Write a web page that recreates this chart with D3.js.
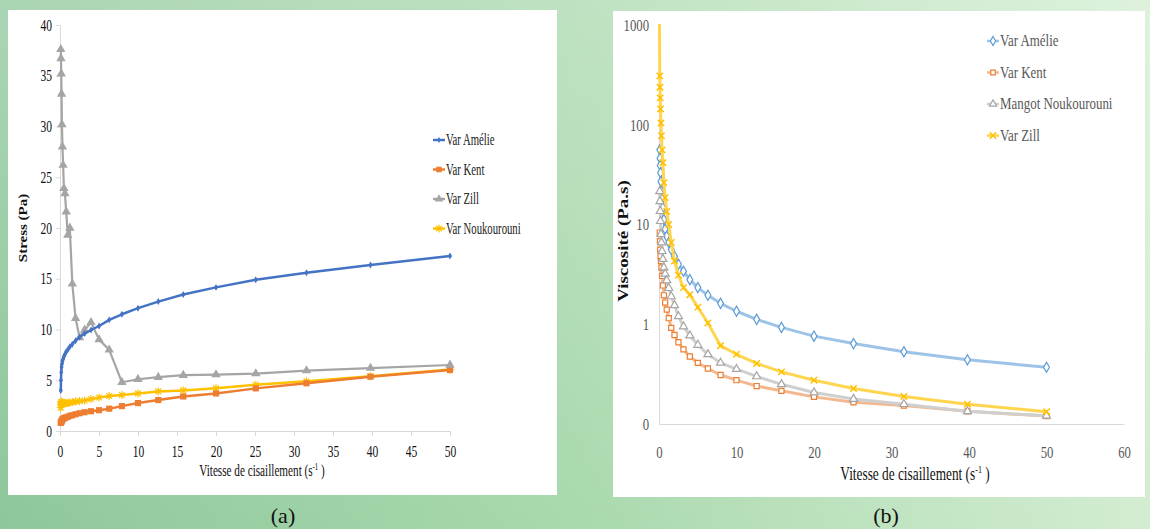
<!DOCTYPE html>
<html lang="fr">
<head>
<meta charset="utf-8">
<title>Stress et viscosité</title>
<style>
  body { margin: 0; overflow: hidden; }
  svg text { font-family: "Liberation Serif", "Times New Roman", serif; }
</style>
</head>
<body>
<svg id="chart" width="1150" height="529"></svg>
<script src="https://d3js.org/d3.v7.min.js"></script>
<script>
"use strict";

// vitesse de cisaillement (s-1)
var rate = [0.1, 0.126, 0.158, 0.2, 0.251, 0.316, 0.398, 0.501, 0.631, 0.794,
            1, 1.26, 1.58, 2, 2.51, 3.16, 3.98, 5.01, 6.31, 7.94,
            10, 12.6, 15.8, 20, 25.1, 31.6, 39.8, 50];

// (a) stress (Pa)
var stressAmelie = [4.0, 5.0, 5.8, 6.3, 6.6, 6.9, 7.1, 7.35, 7.55, 7.8,
                    8.0, 8.3, 8.55, 8.9, 9.25, 9.6, 9.95, 10.35, 10.95, 11.5,
                    12.1, 12.75, 13.45, 14.15, 14.9, 15.6, 16.35, 17.25];
var stressKent = [0.8, 0.85, 0.9, 0.95, 1.05, 1.15, 1.2, 1.25, 1.3, 1.35,
                  1.4, 1.5, 1.55, 1.65, 1.75, 1.85, 1.95, 2.05, 2.2, 2.45,
                  2.75, 3.05, 3.4, 3.7, 4.2, 4.7, 5.35, 6.0];
var stressZill = [37.6, 36.7, 35.2, 33.2, 30.2, 28.0, 26.2, 23.9, 23.4, 21.6,
                  19.3, 20.0, 14.5, 11.1, 9.2, 9.95, 10.7, 9.0, 8.0, 4.8,
                  5.1, 5.3, 5.5, 5.55, 5.65, 5.95, 6.2, 6.5];
var stressNouk = [2.3, 2.6, 2.8, 2.9, 2.8, 2.75, 2.7, 2.75, 2.7, 2.75,
                  2.75, 2.8, 2.85, 2.9, 2.95, 3.0, 3.15, 3.3, 3.45, 3.55,
                  3.7, 3.9, 4.0, 4.2, 4.55, 4.9, 5.4, 6.05];

// (b) viscosité (Pa.s) - first point only measured for Zill (off scale)
var rateB = [0.05, 0.1, 0.126, 0.158, 0.2, 0.251, 0.316, 0.398, 0.501, 0.631, 0.794,
             1, 1.26, 1.58, 2, 2.51, 3.16, 3.98, 5.01, 6.31, 7.94,
             10, 12.6, 15.8, 20, 25.1, 31.6, 39.8, 50];
var viscAmelie = [null, 56, 46, 39, 33, 27, 21.5, 18, 14.7, 11.2, 9.0,
                  7.6, 6.6, 5.6, 4.8, 4.0, 3.4, 2.8, 2.33, 1.95, 1.62,
                  1.35, 1.12, 0.93, 0.76, 0.64, 0.53, 0.44, 0.37];
var viscKent = [null, 8.3, 6.8, 5.6, 4.8, 4.3, 3.7, 3.05, 2.45, 1.95, 1.65,
                1.4, 1.15, 0.92, 0.78, 0.66, 0.56, 0.475, 0.41, 0.36, 0.31,
                0.275, 0.24, 0.215, 0.187, 0.165, 0.153, 0.134, 0.12];
var viscNouk = [null, 21.5, 17.1, 13.6, 10.8, 8.0, 6.6, 5.4, 4.5, 3.7, 3.2,
                2.75, 2.3, 1.9, 1.55, 1.2, 0.95, 0.77, 0.62, 0.5, 0.41,
                0.355, 0.30, 0.25, 0.207, 0.178, 0.158, 0.134, 0.121];
var viscZill = [1500, 309, 238, 186, 144, 104, 77.6, 56, 41.7, 26.3, 18.6,
                13.5, 10.0, 6.6, 4.3, 3.1, 2.33, 1.98, 1.48, 1.03, 0.61,
                0.50, 0.405, 0.333, 0.275, 0.227, 0.189, 0.158, 0.133];

var ticksA_x = [0, 5, 10, 15, 20, 25, 30, 35, 40, 45, 50];
var ticksA_y = [0, 5, 10, 15, 20, 25, 30, 35, 40];
var ticksB_x = [0, 10, 20, 30, 40, 50, 60];
var ticksB_y = [0.1, 1, 10, 100, 1000];
var ticksB_yLabels = ["0", "1", "10", "100", "1000"];

var svg = d3.select("#chart");

// fond vert
var defs = svg.append("defs");
var bg = defs.append("linearGradient").attr("id", "bg");
bg.append("stop").attr("offset", "0").attr("stop-color", "#8ec79b");
bg.append("stop").attr("offset", "0.5").attr("stop-color", "#a9d9ad");
bg.append("stop").attr("offset", "1").attr("stop-color", "#d3edd1");
var bgv = defs.append("linearGradient").attr("id", "bgv").attr("x2", 0).attr("y2", 1);
bgv.append("stop").attr("offset", "0").attr("stop-color", "#fff").attr("stop-opacity", 0.25);
bgv.append("stop").attr("offset", "1").attr("stop-color", "#fff").attr("stop-opacity", 0);
svg.append("rect").attr("width", 1150).attr("height", 529).attr("fill", "url(#bg)");
svg.append("rect").attr("width", 1150).attr("height", 529).attr("fill", "url(#bgv)");

svg.append("rect").attr("x", 8).attr("y", 10).attr("width", 549).attr("height", 485).attr("fill", "#fff");
svg.append("rect").attr("x", 613).attr("y", 11).attr("width", 532).attr("height", 486).attr("fill", "#fff");

defs.append("clipPath").attr("id", "clipB").append("rect")
	.attr("x", 640).attr("y", 24).attr("width", 500).attr("height", 410);

// texte compressé horizontalement (comme l'image)
function squeeze(sel, k) {
	sel.each(function() {
		var t = d3.select(this);
		var x = +t.attr("x") || 0;
		t.attr("x", x / k).attr("transform", "scale(" + k + ",1)");
	});
}
function label(x, y, txt, size, k, anchor, color, weight) {
	var t = svg.append("g").attr("transform", "translate(" + x + "," + y + ")")
		.append("text").attr("transform", "scale(" + k + ",1)")
		.attr("text-anchor", anchor).attr("font-size", size)
		.attr("fill", color).attr("font-weight", weight || "normal");
	t.text(txt);
	return t;
}
function xTitle(x, y, size, k, color) {
	var t = label(x, y, "Vitesse de cisaillement (s", size, k, "middle", color);
	t.append("tspan").attr("font-size", size * 0.6).attr("dy", -size * 0.4).text("-1");
	t.append("tspan").attr("dy", size * 0.4).text(" )");
}
function yTitle(x, y, txt, size, k) {
	svg.append("g").attr("transform", "translate(" + x + "," + y + ") rotate(-90)")
		.append("text").attr("transform", "scale(1," + k + ")")
		.attr("text-anchor", "middle").attr("font-size", size)
		.attr("font-weight", "bold").attr("fill", "#111").text(txt);
}

var asterisk = "M-4,0L4,0M0,-4L0,4M-2.9,-2.9L2.9,2.9M-2.9,2.9L2.9,-2.9";
var cross = "M-3.2,-3.2L3.2,3.2M-3.2,3.2L3.2,-3.2";

function markerPath(type, size) {
	if (type === "asterisk") return asterisk;
	if (type === "x") return cross;
	var s = {diamond: d3.symbolDiamond, square: d3.symbolSquare, triangle: d3.symbolTriangle}[type];
	return d3.symbol().type(s).size(size)();
}

function drawSeries(g, xs, ys, sx, sy, st) {
	var pts = xs.map(function(d, i) { return [d, ys[i]]; });
	var line = d3.line()
		.defined(function(d) { return d[1] !== null; })
		.x(function(d) { return sx(d[0]); })
		.y(function(d) { return sy(d[1]); });
	g.append("path").datum(pts).attr("d", line)
		.attr("fill", "none").attr("stroke", st.line)
		.attr("stroke-width", st.width).attr("stroke-linejoin", "round");
	g.selectAll(null).data(pts.filter(function(d) { return d[1] !== null && sy(d[1]) > 30; }))
		.enter().append("path")
		.attr("transform", function(d) { return "translate(" + sx(d[0]) + "," + sy(d[1]) + ")"; })
		.attr("d", markerPath(st.marker, st.size))
		.attr("fill", st.fill).attr("stroke", st.stroke).attr("stroke-width", st.sw);
}

function legend(x0, y0, dy, items, size, k, color) {
	items.forEach(function(it, i) {
		var y = y0 + i * dy;
		svg.append("line").attr("x1", x0).attr("x2", x0 + 12).attr("y1", y).attr("y2", y)
			.attr("stroke", it.st.line).attr("stroke-width", it.st.legendWidth || 2.5);
		svg.append("path").attr("transform", "translate(" + (x0 + 6) + "," + y + ")")
			.attr("d", markerPath(it.st.marker, it.st.size * 0.8))
			.attr("fill", it.st.fill).attr("stroke", it.st.stroke).attr("stroke-width", it.st.sw);
		label(x0 + 13, y + 5, it.name, size, k, "start", color);
	});
}

// ---------- (a) ----------
var xA = d3.scaleLinear().domain([0, 50]).range([60, 450]);
var yA = d3.scaleLinear().domain([0, 40]).range([431, 25]);

var axA_y = svg.append("g").attr("transform", "translate(60,0)")
	.call(d3.axisLeft(yA).tickValues(ticksA_y).tickSize(4).tickPadding(4).tickSizeOuter(0));
var axA_x = svg.append("g").attr("transform", "translate(0,431)")
	.call(d3.axisBottom(xA).tickValues(ticksA_x).tickSize(5).tickPadding(10).tickSizeOuter(0));
[axA_y, axA_x].forEach(function(ax) {
	ax.select(".domain").attr("stroke", "#d9d9d9");
	ax.selectAll(".tick line").attr("stroke", "#d9d9d9");
	ax.selectAll("text").attr("font-family", "Liberation Serif").attr("font-size", 16).attr("fill", "#111");
	squeeze(ax.selectAll("text"), 0.72);
});

var stA = {
	amelie: {line: "#4472C4", width: 2.5, marker: "diamond", size: 14, fill: "#4472C4", stroke: "none", sw: 0},
	kent: {line: "#ED7D31", width: 2.5, marker: "square", size: 38, fill: "#ED7D31", stroke: "none", sw: 0},
	zill: {line: "#A5A5A5", width: 2.2, marker: "triangle", size: 38, fill: "#A5A5A5", stroke: "none", sw: 0},
	nouk: {line: "#FFC000", width: 2.5, marker: "asterisk", size: 0, fill: "none", stroke: "#FFC000", sw: 1.2}
};
var gA = svg.append("g");
drawSeries(gA, rate, stressNouk, xA, yA, stA.nouk);
drawSeries(gA, rate, stressKent, xA, yA, stA.kent);
drawSeries(gA, rate, stressZill, xA, yA, stA.zill);
drawSeries(gA, rate, stressAmelie, xA, yA, stA.amelie);

legend(433, 140, 29.5, [
	{name: "Var Amélie", st: stA.amelie},
	{name: "Var Kent", st: stA.kent},
	{name: "Var Zill", st: stA.zill},
	{name: "Var Noukourouni", st: stA.nouk}
], 16, 0.67, "#222");

xTitle(262, 476, 16, 0.7, "#111");
yTitle(27, 228, "Stress (Pa)", 15, 0.85);
label(283, 523, "(a)", 22, 1, "middle", "#111");

// ---------- (b) ----------
var xB = d3.scaleLinear().domain([0, 60]).range([659, 1124]);
var yB = d3.scaleLog().domain([0.1, 1000]).range([424, 25]);

var axB_y = svg.append("g").attr("transform", "translate(659,0)")
	.call(d3.axisLeft(yB).tickValues(ticksB_y).tickSize(0).tickPadding(10)
		.tickFormat(function(d, i) { return ticksB_yLabels[i]; }));
var axB_x = svg.append("g").attr("transform", "translate(0,424)")
	.call(d3.axisBottom(xB).tickValues(ticksB_x).tickSize(0).tickPadding(22));
[axB_y, axB_x].forEach(function(ax) {
	ax.select(".domain").attr("stroke", "#d9d9d9");
	ax.selectAll("text").attr("font-family", "Liberation Serif").attr("font-size", 17).attr("fill", "#595959");
	squeeze(ax.selectAll("text"), 0.75);
});

var stB = {
	amelie: {line: "#9dc3e6", width: 3, marker: "diamond", size: 30, fill: "#fff", stroke: "#5B9BD5", sw: 1.2, legendWidth: 2.5},
	kent: {line: "#f4b890", width: 3, marker: "square", size: 26, fill: "#fff", stroke: "#ED7D31", sw: 1.2, legendWidth: 2.5},
	nouk: {line: "#cfcfcf", width: 3, marker: "triangle", size: 28, fill: "#fff", stroke: "#A5A5A5", sw: 1.2, legendWidth: 2.5},
	zill: {line: "#ffd54f", width: 3, marker: "x", size: 0, fill: "none", stroke: "#FFC000", sw: 1.5, legendWidth: 2.5}
};
var gB = svg.append("g").attr("clip-path", "url(#clipB)");
drawSeries(gB, rateB, viscAmelie, xB, yB, stB.amelie);
drawSeries(gB, rateB, viscKent, xB, yB, stB.kent);
drawSeries(gB, rateB, viscNouk, xB, yB, stB.nouk);
drawSeries(gB, rateB, viscZill, xB, yB, stB.zill);

legend(987, 41, 31.5, [
	{name: "Var Amélie", st: stB.amelie},
	{name: "Var Kent", st: stB.kent},
	{name: "Mangot Noukourouni", st: stB.nouk},
	{name: "Var Zill", st: stB.zill}
], 17.5, 0.74, "#595959");

xTitle(915, 480, 18, 0.74, "#111");
yTitle(628, 241, "Viscosité (Pa.s)", 19, 0.8);
label(886, 523, "(b)", 22, 1, "middle", "#111");
</script>
</body>
</html>
